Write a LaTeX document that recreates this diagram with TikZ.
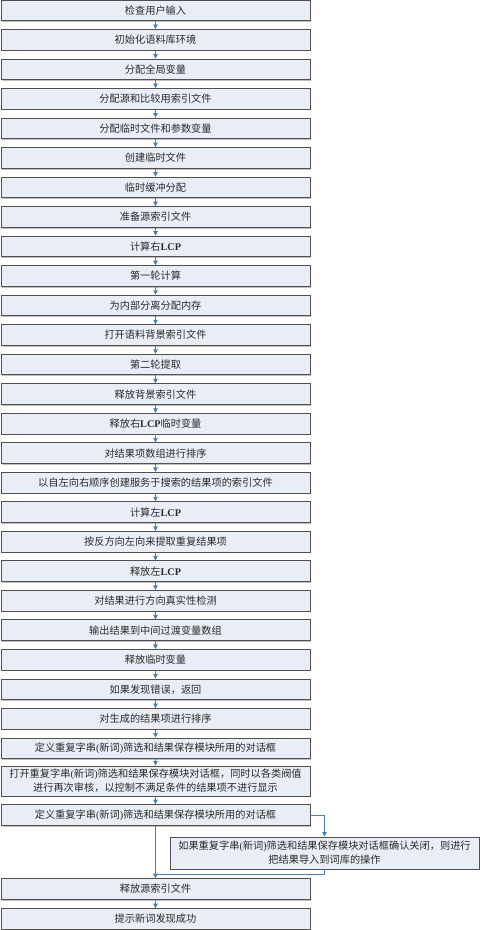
\documentclass[tikz,border=0pt]{standalone}
\usepackage{fontspec}
\setmainfont{Liberation Serif}
\newfontfamily\cjk{Noto Sans CJK SC}
\usetikzlibrary{arrows.meta,shadows}
\definecolor{boxfill}{HTML}{E9EDF6}
\definecolor{boxline}{HTML}{505050}
\definecolor{arrowblue}{HTML}{4A7EBB}
\definecolor{txt}{HTML}{2A2A2A}
\newcommand\xinci{{\rmfamily(}新词{\rmfamily)}}
\newcommand\lcp{{\rmfamily\bfseries LCP}}
\begin{document}
\begin{tikzpicture}[x=1pt,y=1pt,
  stepbox/.style={draw=boxline, line width=0.9pt, fill=boxfill, minimum width=309pt, minimum height=20.7pt, inner sep=0pt,
     font=\cjk\fontsize{10.2}{14}\selectfont, text=txt, align=center,
     drop shadow={shadow xshift=1.2pt, shadow yshift=-1.2pt, fill=black!25, opacity=1}},
  conn/.style={draw=arrowblue, line width=0.8pt},
  arr/.style={conn, -{Triangle[width=4.5pt,length=4.5pt]}}]
\useasboundingbox (0,0) rectangle (480,-930);
\def\bx{155.5}
\foreach \i/\t in {1/检查用户输入,2/初始化语料库环境,3/分配全局变量,4/分配源和比较用索引文件,5/分配临时文件和参数变量,
  6/创建临时文件,7/临时缓冲分配,8/准备源索引文件,9/计算右\lcp,10/第一轮计算,11/为内部分离分配内存,
  12/打开语料背景索引文件,13/第二轮提取,14/释放背景索引文件,15/释放右\lcp 临时变量,16/对结果项数组进行排序,
  17/以自左向右顺序创建服务于搜索的结果项的索引文件,18/计算左\lcp,19/按反方向左向来提取重复结果项,20/释放左\lcp,
  21/对结果进行方向真实性检测,22/输出结果到中间过渡变量数组,23/释放临时变量,24/如果发现错误，返回,
  25/对生成的结果项进行排序,26/定义重复字串\xinci 筛选和结果保存模块所用的对话框}
{
  \pgfmathsetmacro\cy{-((\i-1)*29.52+10.35)}
  \node[stepbox] (b\i) at (\bx,\cy) {\t};
}
\node[stepbox, minimum height=30pt] (b27) at (\bx,-781) {打开重复字串\xinci 筛选和结果保存模块对话框，同时以各类阀值\\进行再次审核，以控制不满足条件的结果项不进行显示};
\node[stepbox] (b28) at (\bx,-815) {定义重复字串\xinci 筛选和结果保存模块所用的对话框};
\node[stepbox, minimum height=32pt] (side) at (324.5,-853) {如果重复字串\xinci 筛选和结果保存模块对话框确认关闭，则进行\\把结果导入到词库的操作};
\node[stepbox] (b30) at (\bx,-889) {释放源索引文件};
\node[stepbox] (b31) at (\bx,-919) {提示新词发现成功};
\foreach \i [evaluate=\i as \j using int(\i+1)] in {1,...,27}
  \draw[arr] (b\i.south) -- (b\j.north);
\draw[arr] (b28.east) -| (side.north);
\coordinate (join) at (\bx,-874);
\draw[conn] (side.south) |- (join);
\draw[arr] (b28.south) -- (b30.north);
\draw[arr] (b30.south) -- (b31.north);
\end{tikzpicture}
\end{document}
